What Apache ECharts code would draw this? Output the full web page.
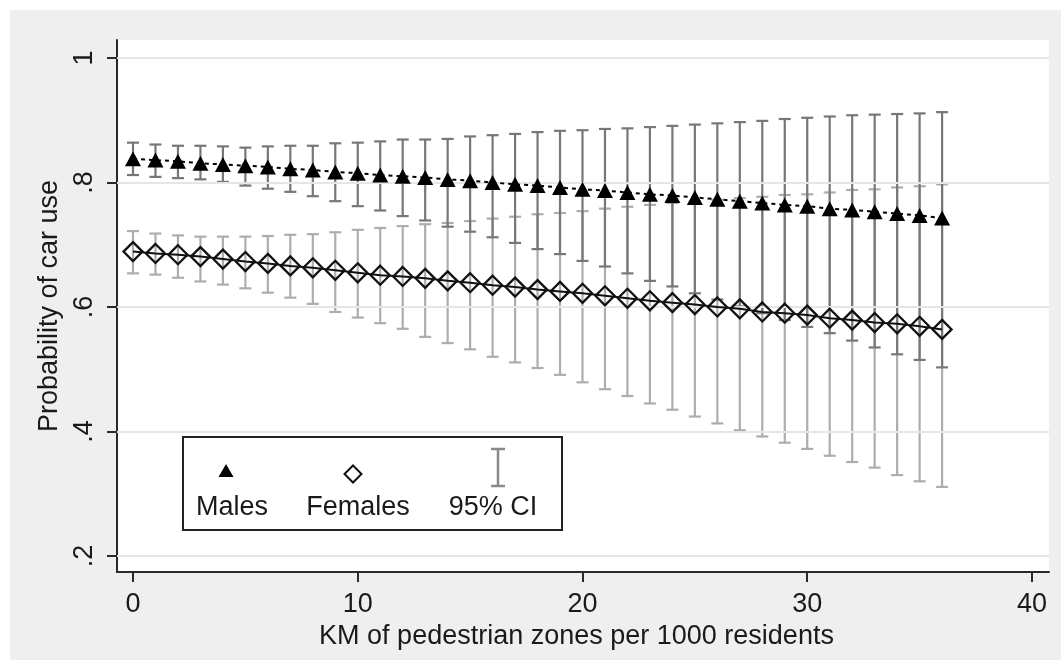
<!DOCTYPE html>
<html>
<head>
<meta charset="utf-8">
<title>Probability of car use</title>
<script src="https://cdn.jsdelivr.net/npm/echarts@6/dist/echarts.min.js"></script>
<style>
  html, body { margin: 0; padding: 0; background: #ffffff; }
  #chart { width: 1061px; height: 660px; }
</style>
</head>
<body>
<div id="chart"></div>
<script>
// km of pedestrian zones per 1000 residents
const kmValues = [0, 1, 2, 3, 4, 5, 6, 7, 8, 9, 10, 11, 12, 13, 14, 15, 16, 17, 18,
  19, 20, 21, 22, 23, 24, 25, 26, 27, 28, 29, 30, 31, 32, 33, 34, 35, 36];

// males: predicted probability and 95% CI
const malesProb = [0.838, 0.836, 0.834, 0.831, 0.829, 0.827, 0.825, 0.822, 0.820, 0.817,
  0.815, 0.812, 0.810, 0.808, 0.805, 0.803, 0.800, 0.797, 0.795, 0.792, 0.789, 0.787,
  0.784, 0.781, 0.779, 0.776, 0.773, 0.770, 0.767, 0.764, 0.762, 0.758, 0.756, 0.753,
  0.750, 0.747, 0.743];
const malesLow = [0.812, 0.809, 0.807, 0.805, 0.801, 0.795, 0.790, 0.785, 0.778, 0.770,
  0.762, 0.755, 0.746, 0.739, 0.729, 0.721, 0.712, 0.703, 0.693, 0.685, 0.674, 0.665,
  0.654, 0.642, 0.633, 0.622, 0.612, 0.601, 0.590, 0.579, 0.568, 0.558, 0.546, 0.535,
  0.524, 0.515, 0.503];
const malesHigh = [0.864, 0.861, 0.859, 0.859, 0.858, 0.856, 0.858, 0.859, 0.859, 0.863,
  0.864, 0.866, 0.869, 0.869, 0.870, 0.874, 0.876, 0.878, 0.881, 0.883, 0.884, 0.886,
  0.887, 0.889, 0.891, 0.893, 0.895, 0.897, 0.899, 0.902, 0.904, 0.906, 0.908, 0.909,
  0.910, 0.911, 0.913];

// females: predicted probability and 95% CI
const femalesProb = [0.689, 0.686, 0.684, 0.681, 0.677, 0.673, 0.670, 0.666, 0.663, 0.659,
  0.655, 0.651, 0.649, 0.646, 0.642, 0.639, 0.635, 0.632, 0.628, 0.625, 0.622, 0.618,
  0.614, 0.610, 0.607, 0.604, 0.600, 0.597, 0.592, 0.590, 0.587, 0.582, 0.579, 0.575,
  0.573, 0.569, 0.564];
const femalesLow = [0.654, 0.652, 0.647, 0.641, 0.636, 0.630, 0.623, 0.615, 0.605, 0.592,
  0.583, 0.574, 0.565, 0.552, 0.542, 0.532, 0.520, 0.511, 0.502, 0.491, 0.479, 0.468,
  0.457, 0.445, 0.435, 0.424, 0.413, 0.402, 0.392, 0.382, 0.372, 0.361, 0.351, 0.342,
  0.330, 0.320, 0.311];
const femalesHigh = [0.722, 0.718, 0.715, 0.713, 0.713, 0.713, 0.714, 0.716, 0.717, 0.720,
  0.724, 0.727, 0.730, 0.733, 0.735, 0.738, 0.742, 0.745, 0.749, 0.751, 0.754, 0.758,
  0.761, 0.764, 0.767, 0.770, 0.772, 0.775, 0.777, 0.780, 0.781, 0.784, 0.788, 0.789,
  0.792, 0.794, 0.797];

// axis ticks
const xTicks = [0, 10, 20, 30, 40];
const yTicks = [0.2, 0.4, 0.6, 0.8, 1];

const legendNames = ['Males', 'Females', '95% CI'];

const FONT = '"Liberation Sans", Arial, sans-serif';
const TEXT = '#1a1a1a';

const chart = echarts.init(document.getElementById('chart'), null, { renderer: 'canvas' });

// error bar drawn with caps
function ciRenderer(color, width) {
  return function (params, api) {
    const x = api.value(0);
    const lo = api.coord([x, api.value(1)]);
    const hi = api.coord([x, api.value(2)]);
    const half = 6;
    const style = { stroke: color, lineWidth: width };
    return {
      type: 'group',
      children: [
        { type: 'line', shape: { x1: lo[0], y1: lo[1], x2: hi[0], y2: hi[1] }, style: style },
        { type: 'line', shape: { x1: lo[0] - half, y1: lo[1], x2: lo[0] + half, y2: lo[1] }, style: style },
        { type: 'line', shape: { x1: hi[0] - half, y1: hi[1], x2: hi[0] + half, y2: hi[1] }, style: style }
      ]
    };
  };
}

const zip = (a) => kmValues.map((x, i) => [x, a[i]]);
const zipCI = (lo, hi) => kmValues.map((x, i) => [x, lo[i], hi[i]]);

const option = {
  animation: false,
  backgroundColor: '#ffffff',
  textStyle: { fontFamily: FONT, color: TEXT },
  grid: {
    left: 117, right: 12, top: 40, bottom: 88,
    show: true, backgroundColor: '#ffffff', borderWidth: 0
  },
  xAxis: {
    type: 'value',
    min: -0.712,
    max: 40.757,
    name: 'KM of pedestrian zones per 1000 residents',
    nameLocation: 'middle',
    nameGap: 43,
    nameTextStyle: { fontSize: 27, color: TEXT, fontFamily: FONT, padding: [0, 13, 0, 0] },
    axisLine: { show: true, onZero: false, lineStyle: { color: '#2a2a2a', width: 2 } },
    axisTick: { show: true, customValues: xTicks, length: 10, lineStyle: { color: '#2a2a2a', width: 2 } },
    axisLabel: { customValues: xTicks, fontSize: 27, color: TEXT, fontFamily: FONT, margin: 19 },
    splitLine: { show: false }
  },
  yAxis: {
    type: 'value',
    min: 0.1743,
    max: 1.0289,
    name: 'Probability of car use',
    nameLocation: 'middle',
    nameRotate: 90,
    nameGap: 44,
    nameTextStyle: { fontSize: 27, color: TEXT, fontFamily: FONT },
    axisLine: { show: true, onZero: false, lineStyle: { color: '#2a2a2a', width: 2 } },
    axisTick: { show: true, customValues: yTicks, length: 10, lineStyle: { color: '#2a2a2a', width: 2 } },
    axisLabel: {
      customValues: yTicks,
      rotate: 90,
      fontSize: 27,
      color: TEXT,
      fontFamily: FONT,
      margin: 19,
      formatter: v => (Math.abs(v - 1) < 1e-9 ? '1' : String(+v.toFixed(1)).replace(/^0/, ''))
    },
    splitLine: { show: false }
  },
  graphic: [
    // outer grey panel behind the plot
    {
      type: 'rect', z: -10, silent: true,
      shape: { x: 10, y: 10, width: 1051, height: 650 },
      style: { fill: '#efefef' }
    },
    // legend box
    {
      type: 'group', z: 100,
      children: [
        { type: 'rect', shape: { x: 183, y: 437, width: 379, height: 93 },
          style: { fill: '#ffffff', stroke: '#222222', lineWidth: 2 } },
        { type: 'polygon', shape: { points: [[226, 464], [233.5, 477], [218.5, 477]] },
          style: { fill: '#000000' } },
        { type: 'polygon', shape: { points: [[353, 465.5], [361.5, 474], [353, 482.5], [344.5, 474]] },
          style: { fill: '#ffffff', stroke: '#111111', lineWidth: 2 } },
        { type: 'line', shape: { x1: 498, y1: 449, x2: 498, y2: 486 },
          style: { stroke: '#8a8a8a', lineWidth: 2.5 } },
        { type: 'line', shape: { x1: 491, y1: 449, x2: 505, y2: 449 },
          style: { stroke: '#8a8a8a', lineWidth: 2.5 } },
        { type: 'line', shape: { x1: 491, y1: 486, x2: 505, y2: 486 },
          style: { stroke: '#8a8a8a', lineWidth: 2.5 } },
        { type: 'text', x: 232, y: 508,
          style: { text: legendNames[0], font: '27px ' + FONT, fill: TEXT, align: 'center', verticalAlign: 'middle' } },
        { type: 'text', x: 358, y: 508,
          style: { text: legendNames[1], font: '27px ' + FONT, fill: TEXT, align: 'center', verticalAlign: 'middle' } },
        { type: 'text', x: 493, y: 508,
          style: { text: legendNames[2], font: '27px ' + FONT, fill: TEXT, align: 'center', verticalAlign: 'middle' } }
      ]
    }
  ],
  series: [
    {
      // horizontal grid lines
      type: 'line',
      data: [],
      silent: true,
      markLine: {
        silent: true,
        symbol: 'none',
        label: { show: false },
        lineStyle: { color: '#e6e6e6', width: 2, type: 'solid' },
        data: yTicks.map(v => ({ yAxis: v }))
      },
      z: 1
    },
    {
      name: '95% CI females',
      type: 'custom',
      renderItem: ciRenderer('#adadad', 2.2),
      encode: { x: 0, y: [1, 2] },
      data: zipCI(femalesLow, femalesHigh),
      z: 2
    },
    {
      name: '95% CI males',
      type: 'custom',
      renderItem: ciRenderer('#777777', 2.2),
      encode: { x: 0, y: [1, 2] },
      data: zipCI(malesLow, malesHigh),
      z: 3
    },
    {
      name: 'Males',
      type: 'line',
      data: zip(malesProb),
      symbol: 'triangle',
      symbolSize: [16, 15],
      itemStyle: { color: '#000000' },
      lineStyle: { color: '#000000', width: 2, type: [4, 4] },
      z: 5
    },
    {
      name: 'Females',
      type: 'line',
      data: zip(femalesProb),
      symbol: 'diamond',
      symbolSize: [19, 19],
      itemStyle: { color: 'rgba(255,255,255,0)', borderColor: '#111111', borderWidth: 2.3 },
      lineStyle: { color: '#111111', width: 2 },
      z: 5
    }
  ]
};

chart.setOption(option);
</script>
</body>
</html>
